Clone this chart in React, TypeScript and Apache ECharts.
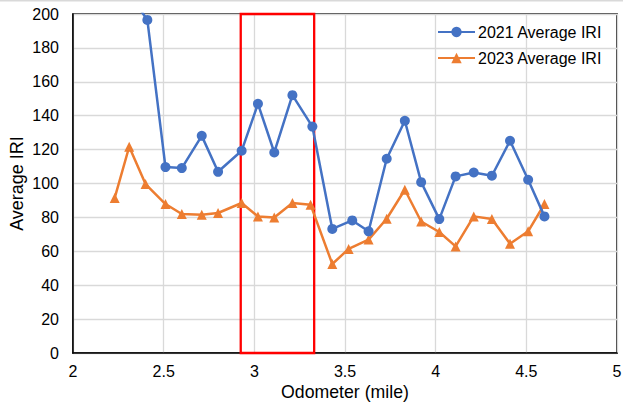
import React, { useEffect, useRef } from "react";
import * as echarts from "echarts";

const odo2021 = [2.31, 2.41, 2.51, 2.6, 2.71, 2.8, 2.93, 3.02, 3.11, 3.21, 3.32, 3.43, 3.54, 3.63, 3.73, 3.83, 3.92, 4.02, 4.11, 4.21, 4.31, 4.41, 4.51, 4.6];
const iri2021 = [212, 196.5, 109.7, 109.1, 128.1, 106.9, 119.3, 147, 118.3, 152.1, 133.6, 73.2, 78.2, 71.8, 114.6, 137, 100.8, 79, 104.2, 106.5, 104.6, 125.2, 102.2, 80.6];
const odo2023 = [2.23, 2.31, 2.4, 2.51, 2.6, 2.71, 2.8, 2.93, 3.02, 3.11, 3.21, 3.31, 3.43, 3.52, 3.63, 3.73, 3.83, 3.92, 4.02, 4.11, 4.21, 4.31, 4.41, 4.51, 4.6];
const iri2023 = [91.5, 121.7, 99.7, 87.9, 82, 81.6, 82.6, 88.5, 80.6, 80, 88.5, 87.5, 52.5, 61.4, 66.9, 79.2, 96.3, 77.6, 71.4, 62.9, 80.6, 79, 64.5, 71.8, 87.9];
const seriesNames = ["2021 Average IRI", "2023 Average IRI"];
const highlightRange = [2.925, 3.33];

const FONT = "'Liberation Sans', Arial, sans-serif";

export default function App() {
  const ref = useRef<HTMLDivElement>(null);
  useEffect(() => {
    document.body.style.margin = "0";
    const chart = echarts.init(ref.current!, null, { renderer: "svg" });
    const zip = (xs: number[], ys: number[]) => xs.map((x, i) => [x, ys[i]]);
    chart.setOption({
      animation: false,
      backgroundColor: "#fff",
      textStyle: { fontFamily: FONT },
      grid: {
        left: 73,
        right: 6,
        top: 14,
        bottom: 49,
        containLabel: false,
        outerBoundsMode: "none",
        show: true,
        borderColor: "#000",
        borderWidth: 1.5,
        backgroundColor: "transparent",
      },
      graphic: [
        {
          type: "line",
          shape: { x1: 0, y1: 0.7, x2: 623, y2: 0.7 },
          style: { stroke: "#D9D9D9", lineWidth: 1.5 },
        },
      ],
      legend: {
        data: seriesNames,
        orient: "vertical",
        left: 432,
        top: 19,
        itemWidth: 37,
        itemHeight: 13,
        itemGap: 10,
        textStyle: { fontSize: 16, color: "#000", fontFamily: FONT, padding: [0, 0, 0, -2] },
      },
      xAxis: {
        type: "value",
        min: 2,
        max: 5,
        interval: 0.5,
        name: "Odometer (mile)",
        nameLocation: "middle",
        nameGap: 30,
        nameMoveOverlap: false,
        nameTextStyle: { fontSize: 17.7, color: "#000", fontFamily: FONT },
        axisLine: { show: true, lineStyle: { color: "#000", width: 1.5 } },
        axisTick: { show: false },
        axisLabel: { fontSize: 16, color: "#000", margin: 10, fontFamily: FONT },
        splitLine: { show: true, lineStyle: { color: "#D9D9D9", width: 1.3 } },
      },
      yAxis: {
        type: "value",
        min: 0,
        max: 200,
        interval: 20,
        name: "Average IRI",
        nameLocation: "middle",
        nameGap: 47,
        nameMoveOverlap: false,
        nameTextStyle: { fontSize: 18, color: "#000", fontFamily: FONT },
        axisLine: { show: true, lineStyle: { color: "#000", width: 1.5 } },
        axisTick: { show: false },
        axisLabel: { fontSize: 16, color: "#000", margin: 14, fontFamily: FONT },
        splitLine: { show: true, lineStyle: { color: "#D9D9D9", width: 1.3 } },
      },
      series: [
        {
          name: seriesNames[0],
          type: "line",
          data: zip(odo2021, iri2021),
          symbol: "circle",
          symbolSize: 10,
          clip: true,
          color: "#4472C4",
          lineStyle: { width: 2.5, color: "#4472C4" },
          itemStyle: { color: "#4472C4" },
          z: 3,
        },
        {
          name: seriesNames[1],
          type: "line",
          data: zip(odo2023, iri2023),
          symbol: "triangle",
          symbolSize: 10,
          clip: true,
          color: "#ED7D31",
          lineStyle: { width: 2.5, color: "#ED7D31" },
          itemStyle: { color: "#ED7D31" },
          z: 2,
        },
        {
          name: "highlight",
          type: "line",
          data: [],
          z: 5,
          markArea: {
            silent: true,
            itemStyle: { color: "rgba(0,0,0,0)", borderColor: "#FF0000", borderWidth: 2.3 },
            data: [[{ xAxis: highlightRange[0], yAxis: 0 }, { xAxis: highlightRange[1], yAxis: 200 }]],
          },
        },
      ],
    });
    return () => chart.dispose();
  }, []);
  return <div ref={ref} style={{ width: 623, height: 402 }} />;
}
